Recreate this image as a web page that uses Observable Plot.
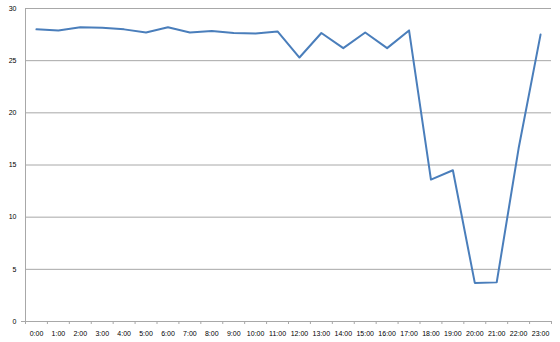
<!DOCTYPE html>
<html>
<head>
<meta charset="utf-8">
<script src="https://cdn.jsdelivr.net/npm/d3@7"></script>
<script src="https://cdn.jsdelivr.net/npm/@observablehq/plot@0.6"></script>
<style>
  html, body { margin: 0; padding: 0; background: #fff; }
  #chart svg { display: block; }
</style>
</head>
<body>
<div id="chart"></div>
<script>
const hours = ["0:00","1:00","2:00","3:00","4:00","5:00","6:00","7:00","8:00","9:00","10:00","11:00",
  "12:00","13:00","14:00","15:00","16:00","17:00","18:00","19:00","20:00","21:00","22:00","23:00"];
const values = [28.0, 27.9, 28.2, 28.15, 28.0, 27.7, 28.2, 27.7, 27.85, 27.65, 27.6, 27.8,
  25.3, 27.65, 26.2, 27.7, 26.2, 27.9, 13.6, 14.5, 3.7, 3.75, 16.6, 27.5];
const yTicks = [0, 5, 10, 15, 20, 25, 30];

const idx = hours.map((_, i) => i);
const bounds = d3.range(hours.length + 1).map(i => i - 0.5);
const data = values.map((v, i) => ({i, v}));

const grid = "#a8a8a8";
const font = "'Liberation Sans', Arial, sans-serif";

const chart = Plot.plot({
  width: 560,
  height: 342,
  marginLeft: 25,
  marginRight: 9,
  marginTop: 8,
  marginBottom: 21,
  style: {fontFamily: font, fontSize: "7px", color: "#000", background: "#fff"},
  x: {domain: [-0.5, hours.length - 0.5], label: null},
  y: {domain: [0, 30], label: null},
  marks: [
    Plot.gridY(yTicks, {stroke: grid, strokeOpacity: 1}),
    Plot.ruleX([-0.5], {stroke: grid}),
    Plot.ruleY([0], {stroke: grid}),
    Plot.axisX(bounds, {tickSize: 3, tickFormat: () => "", stroke: grid, label: null}),
    Plot.axisX(idx, {tickSize: 0, tickPadding: 10, tickFormat: i => hours[i], fontSize: 7, label: null}),
    Plot.axisY([0], {tickSize: 4, tickFormat: () => "", stroke: grid, label: null}),
    Plot.axisY(yTicks, {tickSize: 0, tickPadding: 9, fontSize: 7, label: null}),
    Plot.line(data, {x: "i", y: "v", stroke: "#4a7ebb", strokeWidth: 2})
  ]
});
document.getElementById("chart").appendChild(chart);
</script>
</body>
</html>
